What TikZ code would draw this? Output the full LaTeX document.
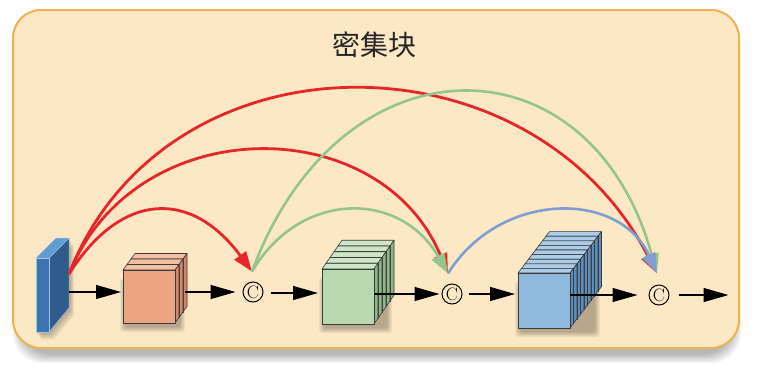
\documentclass[tikz,border=0pt]{standalone}
\usepackage{fontspec}
\newfontfamily\cjk{Noto Sans CJK SC}
\usetikzlibrary{arrows.meta,calc}
\definecolor{boxfill}{HTML}{FCE8C4}
\definecolor{boxline}{HTML}{EDB24E}
\definecolor{redc}{HTML}{E8262A}
\definecolor{greenc}{HTML}{93C58D}
\definecolor{bluec}{HTML}{7F9ED2}
\definecolor{orF}{HTML}{EBA583}\definecolor{orS}{HTML}{D3886A}\definecolor{orT}{HTML}{F3C0A4}
\definecolor{grF}{HTML}{B8D8AF}\definecolor{grS}{HTML}{8DB786}\definecolor{grT}{HTML}{CDE6C5}
\definecolor{blF}{HTML}{8EB9DD}\definecolor{blS}{HTML}{5D8DBC}\definecolor{blT}{HTML}{ACCDEA}
\definecolor{slF}{HTML}{3B76B1}\definecolor{slS}{HTML}{2F5C8A}\definecolor{slT}{HTML}{5F9CD2}
\definecolor{edgec}{HTML}{3A3A3A}
% #1 x0, #2 y0 (front top-left), #3 w, #4 h, #5 layers behind, #6 dx, #7 dy, #8 colour prefix
\newcommand\layerstack[8]{%
  \foreach \k in {0,...,5}{%
    \fill[black,opacity=0.05,rounded corners=3pt] (#1-3+\k,#2+8+\k) rectangle (#1+#3+#5*#6+2-\k,#2+#4+9-\k);}
  \foreach \i in {#5,...,0}{%
    \pgfmathsetmacro\ox{#1+\i*#6}%
    \pgfmathsetmacro\oy{#2+\i*#7}%
    \filldraw[faceedge,fill=#8T] (\ox,\oy) -- (\ox+#6,\oy+#7) -- (\ox+#6+#3,\oy+#7) -- (\ox+#3,\oy) -- cycle;
    \filldraw[faceedge,fill=#8S] (\ox+#3,\oy) -- (\ox+#3+#6,\oy+#7) -- (\ox+#3+#6,\oy+#7+#4) -- (\ox+#3,\oy+#4) -- cycle;
    \filldraw[faceedge,fill=#8F] (\ox,\oy) rectangle (\ox+#3,\oy+#4);
  }}
\begin{document}
\begin{tikzpicture}[x=1pt,y=-1pt,
  faceedge/.style={draw=edgec,line width=0.6pt,line join=round},
  dbox/.style={draw=boxline,fill=boxfill,line width=2pt,rounded corners=28pt,inner sep=0pt,outer sep=0pt},
  frontface/.style={inner sep=0pt,outer sep=0pt},
  cnode/.style={circle,draw=black,line width=1pt,minimum size=20pt,inner sep=0pt,font=\fontsize{18}{18}\selectfont},
  blk/.style={draw=black,line width=1.1pt,-{Triangle[length=25pt,width=14pt]}},
  redarc/.style={draw=redc,line width=2.8pt,-{Triangle[length=20pt,width=14pt]}},
  greenarc/.style={draw=greenc,line width=2.6pt,-{Triangle[length=20pt,width=14pt]}},
  bluearc/.style={draw=bluec,line width=2.6pt,-{Triangle[length=20pt,width=14pt]}},
  slabedge/.style={draw=slT!60!white,line width=0.5pt,line join=round}]
\useasboundingbox (0,0) rectangle (768,386);
% outer box and its shadow
\foreach \k in {0,...,7}{%
  \fill[black,opacity=0.04,rounded corners=30pt] (13+\k*1.2,17+\k*1.2) rectangle (741-\k*1.2,363-\k*1.2);}
\node[dbox,minimum width=726pt,minimum height=338pt] (dense) at (376,179) {};
\node[font=\cjk\fontsize{28}{30}\selectfont,text=black!85] (title) at (374,45) {密集块};
% input slab
\foreach \k in {1,...,5}{%
  \fill[black,opacity=0.06] (36+\k,258+\k*1.5) -- (49+\k,258+\k*1.5) -- (69+\k,238+\k*1.5) -- (69+\k,308+\k*1.5) -- (49+\k,332+\k*1.5) -- (36+\k,332+\k*1.5) -- cycle;}
\filldraw[slabedge,fill=slS] (49,258) -- (69,238) -- (69,308) -- (49,332) -- cycle;
\filldraw[slabedge,fill=slT] (36,258) -- (56,238) -- (69,238) -- (49,258) -- cycle;
\filldraw[slabedge,fill=slF] (36,258) rectangle (49,332);
\coordinate (slabout) at (69,292);
\coordinate (ss) at (69,274);
% feature stacks
\layerstack{123}{270}{52}{53}{2}{4}{-5.5}{or}
\node[frontface,minimum width=52pt,minimum height=53pt] (ob) at (149,296.5) {};
\layerstack{322}{269}{52}{55}{4}{4}{-5.75}{gr}
\node[frontface,minimum width=52pt,minimum height=55pt] (gb) at (348,296.5) {};
\layerstack{518}{273}{52}{55}{8}{3.5}{-4.6}{bl}
\node[frontface,minimum width=52pt,minimum height=55pt] (bb) at (544,300.5) {};
% concatenation nodes
\node[cnode] (c1) at (253,292) {C};
\node[cnode] (c2) at (452,294) {C};
\node[cnode] (c3) at (659,295) {C};
\coordinate (c1t) at ($(c1.north)+(-1,-10)$);
\coordinate (c2t) at ($(c2.north)+(-4,-10)$);
\coordinate (c3t) at ($(c3.north)+(-2,-11)$);
\coordinate (oout) at ($(ob.east)+(10,-4.5)$);
\coordinate (gout) at (gb.east|-c2);
\coordinate (bout) at (bb.east|-c3);
\coordinate (outend) at ($(c3.east)+(59,0)$);
% main path arrows
\draw[blk] (slabout) -- ($(ob.west|-slabout)+(-2,0)$);
\draw[blk] (oout) -- ($(c1.west|-oout)+(-7,0)$);
\draw[blk] ($(c1.east)+(7,1)$) -- ($(gb.west|-c1.east)+(-4,1)$);
\draw[blk] (gout) -- ($(c2.west)+(-2,0)$);
\draw[blk] ($(c2.east)+(6,0)$) -- ($(bb.west|-c2.east)+(-3,0)$);
\draw[blk] (bout) -- ($(c3.west)+(-11,0)$);
\draw[blk] ($(c3.east)+(9,0)$) -- (outend);
% dense connections
\draw[redarc] (ss) .. controls (122,190) and (192,190) .. (c1t);
\draw[redarc] (ss) .. controls (135,110) and (380,110) .. (c2t);
\draw[redarc] (ss) .. controls (165,28) and (530,28) .. (c3t);
\draw[greenarc] (c1t) .. controls (300,190) and (400,190) .. (c2t);
\draw[greenarc] (c1t) .. controls (340,33) and (590,33) .. (c3t);
\draw[bluearc] (c2t) .. controls (500,190) and (620,190) .. (c3t);
\end{tikzpicture}
\end{document}
